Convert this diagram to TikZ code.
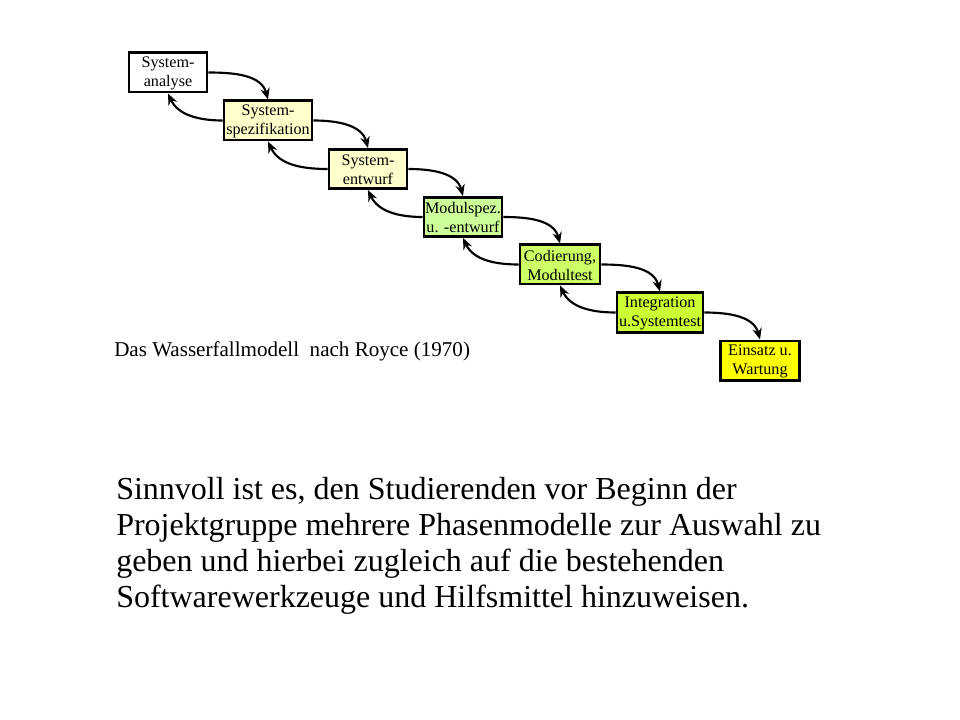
\documentclass[tikz,border=0pt]{standalone}
\usepackage{fontspec}
\setmainfont{Liberation Serif}
\usetikzlibrary{arrows.meta}
\definecolor{paleyellow}{RGB}{255,255,204}
\definecolor{palegreen}{RGB}{204,255,153}
\definecolor{midgreen}{RGB}{204,255,102}
\definecolor{limegreen}{RGB}{204,255,51}
\definecolor{brightyellow}{RGB}{255,255,0}
\begin{document}
\begin{tikzpicture}[x=0.75pt,y=-0.75pt,
  phase/.style={draw=black, line width=2pt, inner sep=0pt, minimum height=29.5pt},
  phasetext/.style={inner sep=0pt, align=center, font=\fontsize{12.1}{14.4}\selectfont},
  flow/.style={line width=1.6pt, -{Stealth[length=8.5pt,width=7pt]}},
  caption/.style={anchor=base west, inner sep=0pt, font=\fontsize{15.8}{18}\selectfont},
  bodytext/.style={anchor=base west, inner sep=0pt, font=\fontsize{24}{27}\selectfont}]
\useasboundingbox (0,0) rectangle (960,720);
\fill[white] (0,0) rectangle (960,720);

\node[phase, fill=white, minimum width=58.5pt] (b1) at (168,72.5) {};
\node[phase, fill=paleyellow, minimum width=66pt] (b2) at (268,120.5) {};
\node[phase, fill=paleyellow, minimum width=58.5pt] (b3) at (368,169) {};
\node[phase, fill=palegreen, minimum width=58.5pt] (b4) at (463,217) {};
\node[phase, fill=midgreen, minimum width=60pt] (b5) at (560,264.5) {};
\node[phase, fill=limegreen, minimum width=64.5pt] (b6) at (660,312.5) {};
\node[phase, fill=brightyellow, minimum width=59.5pt] (b7) at (760,360.5) {};

\node[phasetext] (t1) at ([yshift=-0.6pt]b1.center) {System-\\analyse};
\node[phasetext] (t2) at ([yshift=-0.6pt]b2.center) {System-\\spezifikation};
\node[phasetext] (t3) at ([yshift=-0.6pt]b3.center) {System-\\entwurf};
\node[phasetext] (t4) at ([yshift=-0.6pt]b4.center) {Modulspez.\\u. -entwurf};
\node[phasetext] (t5) at ([yshift=-0.6pt]b5.center) {Codierung,\\Modultest};
\node[phasetext] (t6) at ([yshift=-0.6pt]b6.center) {Integration\\u.Systemtest};
\node[phasetext] (t7) at ([yshift=-0.6pt]b7.center) {Einsatz u.\\Wartung};

\foreach \a/\b in {b1/b2,b2/b3,b3/b4,b4/b5,b5/b6,b6/b7}{
  \draw[flow] (\a.east) to[out=0,in=105] (\b.north);
}
\foreach \a/\b in {b1/b2,b2/b3,b3/b4,b4/b5,b5/b6}{
  \draw[flow] (\b.west) to[out=180,in=-65] (\a.south);
}

\node[caption] (cap) at (114,356) {Das Wasserfallmodell\ \ nach Royce (1970)};

\node[bodytext] (l1) at (116,499) {Sinnvoll ist es, den Studierenden vor Beginn der};
\node[bodytext] (l2) at (116,535) {Projektgruppe mehrere Phasenmodelle zur Auswahl zu};
\node[bodytext] (l3) at (116,571) {geben und hierbei zugleich auf die bestehenden};
\node[bodytext] (l4) at (116,607) {Softwarewerkzeuge und Hilfsmittel hinzuweisen.};
\end{tikzpicture}
\end{document}
